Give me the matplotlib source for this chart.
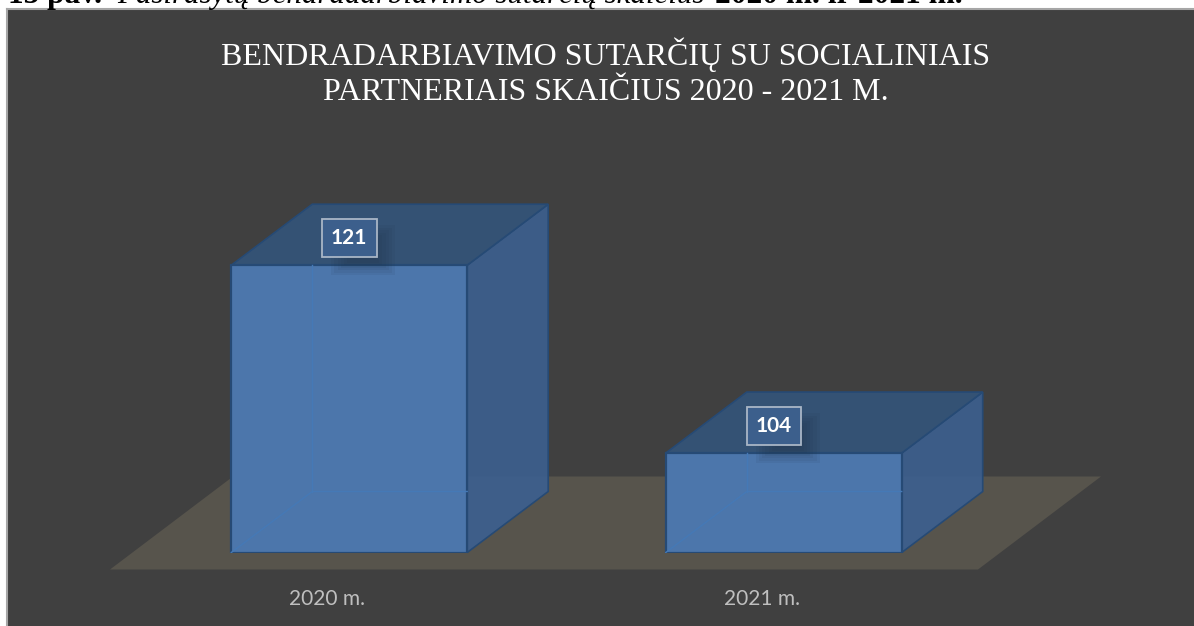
import matplotlib
matplotlib.use('Agg')
import matplotlib.pyplot as plt
from matplotlib.colors import to_rgba
from matplotlib.patches import Polygon, Rectangle

#values
categories = ['2020 m.', '2021 m.']
values = [121, 104]
chart_title = 'BENDRADARBIAVIMO SUTARČIŲ SU SOCIALINIAIS\nPARTNERIAIS SKAIČIUS 2020 - 2021 M.'
caption_num = '15 pav.'
caption_text = 'Pasirašytų bendradarbiavimo sutarčių skaičius'
caption_years = '2020 m. ir 2021 m.'
y_min = 95
y_max = 125

W, H = 1194, 626
BG = '#404040'
FRONT = '#4c76ab'
SIDE = to_rgba('#3c6090', 0.9)
TOP = '#345274'
EDGE = '#264a75'
INNER = '#4579b6'
FLOOR = '#57544c'

# px per category and px per count
PX_X = 434.5
PX_Y = 11.05

fig = plt.figure(figsize=(W / 100, H / 100), dpi=100, facecolor='white')

# dark panel behind everything
panel = fig.add_axes([7 / W, 0, 1 - 7 / W, 1 - 9 / H])
panel.set_facecolor(BG)
panel.set_xticks([])
panel.set_yticks([])
for s in panel.spines.values():
    s.set_color('#a6a6a6')
    s.set_linewidth(1.5)
panel.spines['right'].set_visible(False)
panel.spines['bottom'].set_visible(False)

left_px, right_px = 132, 1001
base_px = 552.5
top_px = base_px - (y_max - y_min) * PX_Y
ax = fig.add_axes([left_px / W, 1 - base_px / H, (right_px - left_px) / W, (base_px - top_px) / H])
ax.patch.set_alpha(0)
ax.set_xlim(-0.5, 0.5 + len(categories) - 1)
ax.set_ylim(y_min, y_max)
for s in ax.spines.values():
    s.set_visible(False)
ax.set_yticks([])
# the labels sit under the front of the floor, a bit left of the bars
ax.set_xticks([i - 22 / PX_X for i in range(len(categories))])
ax.set_xticklabels(categories, family='Lato', fontsize=15, color='#bfbfbf')
ax.tick_params(axis='x', length=0, pad=26)

bar_w = 0.543
dx = 81 / PX_X
dy = 61 / PX_Y

# floor
f_front = y_min - 17 / PX_Y
f_back = y_min + 76 / PX_Y
fx0 = -0.5 - 22 / PX_X
fx1 = 1.5 - 23 / PX_X
f_dx = 123 / PX_X
ax.add_patch(Polygon([(fx0, f_front), (fx1, f_front), (fx1 + f_dx, f_back), (fx0 + f_dx, f_back)],
                     closed=True, facecolor=FLOOR, edgecolor='none', clip_on=False, zorder=1))

label_shift = [0, -10 / PX_X]

for i, v in enumerate(values):
    x0 = i - bar_w / 2
    x1 = i + bar_w / 2
    ax.add_patch(Polygon([(x1, y_min), (x1 + dx, y_min + dy), (x1 + dx, v + dy), (x1, v)],
                         closed=True, facecolor=SIDE, edgecolor=EDGE, lw=1.2, zorder=2, clip_on=False))
    ax.add_patch(Polygon([(x0, v), (x1, v), (x1 + dx, v + dy), (x0 + dx, v + dy)],
                         closed=True, facecolor=TOP, edgecolor=EDGE, lw=1.2, zorder=2, clip_on=False))
    ax.bar(i, v - y_min, bottom=y_min, width=bar_w, color=FRONT, edgecolor=EDGE, linewidth=1.6, zorder=3)
    # back edges seen through the glass, only inside the front face
    ax.plot([x0, x0 + dx, x1], [y_min, y_min + dy, y_min + dy], color=INNER, lw=1, zorder=4)
    ax.plot([x0 + dx, x0 + dx], [y_min + dy, v], color=INNER, lw=1, zorder=4)
    # data label box over the top face, with a soft shadow under it
    lx = i + label_shift[i]
    ly = v + 27 / PX_Y
    for k in [1.0, 0.9, 0.8, 0.7, 0.6, 0.5, 0.4, 0.3]:
        ax.add_patch(Rectangle((lx + (14 - 32 * k) / PX_X, ly - (12 + 25 * k) / PX_Y), 64 * k / PX_X, 50 * k / PX_Y,
                               facecolor='#1f2f45', edgecolor='none', alpha=0.07, zorder=5))
    ax.text(lx, ly, str(v), ha='center', va='center', color='white', fontsize=15, fontweight='bold',
            family='Lato', zorder=6,
            bbox=dict(boxstyle='square,pad=0.44', facecolor='#3c5f8c', edgecolor='#a9b6c6', linewidth=1.3))

# title and caption sit outside the plot axes
fig.text(606 / W, 1 - 72 / H, chart_title, ha='center', va='center', color='white', fontsize=23,
         family='Liberation Serif', linespacing=1.25)
# the caption is cut by the top of the picture, as in the original
cap_y = 1 - 3 / H
fig.text(8 / W, cap_y, caption_num, ha='left', va='baseline', color='black', fontsize=22.6,
         family='Liberation Serif', fontweight='bold')
fig.text(117 / W, cap_y, caption_text, ha='left', va='baseline', color='black', fontsize=22.2,
         family='Liberation Serif', style='italic')
fig.text(715 / W, cap_y, caption_years, ha='left', va='baseline', color='black', fontsize=22.6,
         family='Liberation Serif', fontweight='bold')

fig.savefig('out.png', dpi=100, facecolor='white')
